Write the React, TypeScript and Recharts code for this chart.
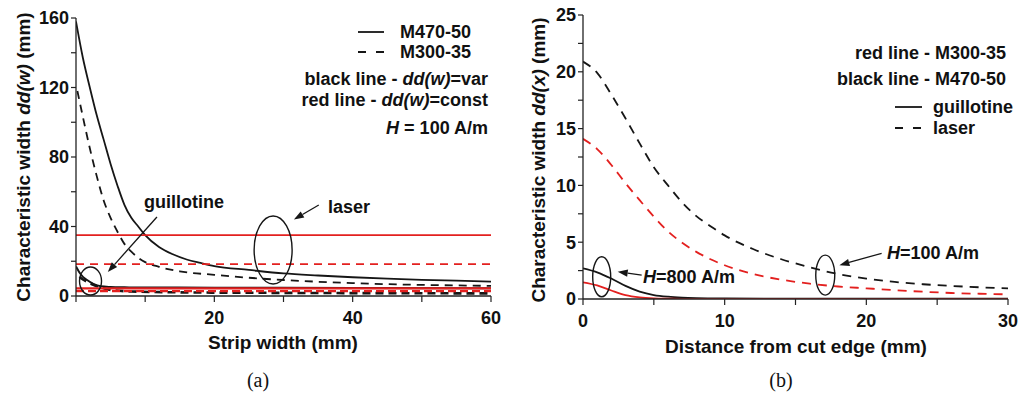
import React from 'react';
import { LineChart, Line, XAxis, YAxis, ReferenceDot, ReferenceLine } from 'recharts';

// ---------- Panel (a): characteristic width vs strip width ----------
const stripLaserM470 = [0, 1, 2, 3, 4, 5, 6, 7, 8, 9, 10, 12, 14, 16, 18, 20, 25, 30, 35, 40, 45, 50, 55, 60];
const laserVarM470 = [158, 137, 120, 104, 90, 76, 63.5, 52.5, 45, 40, 35, 28.2, 24, 21, 19, 17.2, 15, 13, 11.8, 10.8, 10, 9.3, 8.8, 8.3];
const stripLaserM300 = [0.2, 1, 2, 3, 4, 5, 6, 7, 8, 9, 10, 12, 15, 20, 25, 30, 35, 40, 45, 50, 55, 60];
const laserVarM300 = [118, 103, 85, 69, 55, 45, 37, 30, 25.5, 22, 19.5, 16.8, 14.2, 12.2, 10.5, 9.2, 8.2, 7.4, 6.8, 6.4, 6.1, 5.8];
const stripGuillM470 = [0, 0.5, 1, 1.6, 2.5, 3.6, 5, 7, 10, 20, 40, 60];
const guillVarM470 = [17, 13.5, 11, 9.2, 7, 5.6, 5.2, 5, 4.9, 4.8, 4.6, 4.5];
const stripGuillM300 = [0.5, 1, 1.6, 2.5, 3.3, 5, 8, 15, 30, 60];
const guillVarM300 = [11, 9.5, 8.2, 6.5, 5.3, 3.5, 2.6, 2.1, 1.8, 1.5];
const stripRange = [0, 60];
const laserConstM470 = 35;
const laserConstM300 = 18.3;
const guillConstM470 = 4.4;
const guillConstM300 = 2.8;
const aXTicks = [0, 10, 20, 30, 40, 50, 60];
const aYTicks = [0, 20, 40, 60, 80, 100, 120, 140, 160];

// ---------- Panel (b): characteristic width vs distance from cut edge ----------
const distLaser = [0, 1, 2, 3, 4, 5, 6, 7, 8, 9, 10, 12, 14, 16, 18, 20, 22, 24, 26, 28, 30];
const laserM470H100 = [20.9, 19.9, 18.0, 15.9, 13.7, 11.6, 10.0, 8.5, 7.3, 6.4, 5.6, 4.4, 3.5, 2.8, 2.2, 1.8, 1.5, 1.3, 1.15, 1.03, 0.94];
const laserM300H100 = [14.1, 13.2, 11.8, 10.2, 8.7, 7.25, 5.95, 4.95, 4.15, 3.5, 2.97, 2.2, 1.7, 1.35, 1.1, 0.94, 0.78, 0.64, 0.53, 0.46, 0.41];
const distGuill = [0, 1, 2, 3, 4, 5, 6, 7, 8, 10, 15, 20, 30];
const guillM470H800 = [2.7, 2.35, 1.8, 1.15, 0.65, 0.35, 0.2, 0.12, 0.08, 0.05, 0.03, 0.02, 0.02];
const guillM300H800 = [1.47, 1.2, 0.75, 0.35, 0.15, 0.06, 0.03, 0.015, 0.01, 0, 0, 0, 0];
const bXTicks = [0, 5, 10, 15, 20, 25, 30];
const bYTicks = [0, 2.5, 5, 7.5, 10, 12.5, 15, 17.5, 20, 22.5, 25];

const zip = (xs: number[], ys: number[]) => xs.map((x, i) => ({ x, y: ys[i] }));
const flat = (xs: number[], v: number) => xs.map((x) => ({ x, y: v }));

const BLACK = '#161616';
const RED = '#e3201f';
const FONT = '"Liberation Sans", Arial, sans-serif';

const tickStyle = { fontSize: 18, fontWeight: 700, fill: '#111', fontFamily: FONT };
const axisLine = { stroke: '#222', strokeWidth: 1.3 };
const tickLine = { stroke: '#222', strokeWidth: 1.2 };

const Arrow = (p: any) => {
  const { x1, y1, x2, y2 } = p;
  const a = Math.atan2(y2 - y1, x2 - x1);
  const L = 10;
  const W = 3.6;
  const bx = x2 - L * Math.cos(a);
  const by = y2 - L * Math.sin(a);
  const pts = `${x2},${y2} ${bx - W * Math.sin(a)},${by + W * Math.cos(a)} ${bx + W * Math.sin(a)},${by - W * Math.cos(a)}`;
  return (
    <g>
      <line x1={x1} y1={y1} x2={bx} y2={by} stroke={BLACK} strokeWidth={1.3} />
      <polygon points={pts} fill={BLACK} />
    </g>
  );
};

const ellipse = (rx: number, ry: number) => (p: any) => (
  <ellipse cx={p.cx} cy={p.cy} rx={rx} ry={ry} fill="none" stroke={BLACK} strokeWidth={1.4} />
);

const txt = { fontFamily: FONT, fontWeight: 700, fontSize: 18, fill: '#111' } as const;

export default function App() {
  return (
    <div style={{ position: 'absolute', left: 0, top: 0, width: 1020, height: 396, background: '#fff' }}>
      <div style={{ position: 'absolute', left: 0, top: 0 }}>
        <LineChart width={510} height={396} margin={{ top: 18, right: 19, bottom: 70, left: 16 }}>
          <XAxis
            type="number"
            dataKey="x"
            domain={[0, 60]}
            ticks={aXTicks}
            allowDataOverflow
            tickFormatter={(v: number) => (v !== 0 && v % 20 === 0 ? String(v) : '')}
            tick={tickStyle}
            tickSize={6}
            tickMargin={9}
            height={30}
            axisLine={axisLine}
            tickLine={tickLine}
          />
          <YAxis
            type="number"
            domain={[0, 160]}
            ticks={aYTicks}
            allowDataOverflow
            tickFormatter={(v: number) => (v % 40 === 0 ? String(v) : '')}
            tick={tickStyle}
            tickSize={5}
            tickMargin={2}
            width={60}
            axisLine={axisLine}
            tickLine={tickLine}
          />
          <Line data={zip(stripLaserM470, laserVarM470)} dataKey="y" type="monotone" stroke={BLACK} strokeWidth={1.8} dot={false} isAnimationActive={false} />
          <Line data={zip(stripLaserM300, laserVarM300)} dataKey="y" type="monotone" stroke={BLACK} strokeWidth={1.8} strokeDasharray="8 6" dot={false} isAnimationActive={false} />
          <Line data={zip(stripGuillM470, guillVarM470)} dataKey="y" type="monotone" stroke={BLACK} strokeWidth={2} dot={false} isAnimationActive={false} />
          <Line data={zip(stripGuillM300, guillVarM300)} dataKey="y" type="monotone" stroke={BLACK} strokeWidth={2.6} strokeDasharray="8 5" dot={false} isAnimationActive={false} />
          <Line data={flat(stripRange, laserConstM470)} dataKey="y" stroke={RED} strokeWidth={1.8} dot={false} isAnimationActive={false} />
          <Line data={flat(stripRange, laserConstM300)} dataKey="y" stroke={RED} strokeWidth={1.8} strokeDasharray="8 6" dot={false} isAnimationActive={false} />
          <Line data={flat(stripRange, guillConstM470)} dataKey="y" stroke={RED} strokeWidth={2.4} dot={false} isAnimationActive={false} />
          <Line data={flat(stripRange, guillConstM300)} dataKey="y" stroke={RED} strokeWidth={2.4} strokeDasharray="8 4" dot={false} isAnimationActive={false} />
          <ReferenceDot x={28.5} y={26.5} r={1} ifOverflow="visible" shape={ellipse(19, 34)} />
          <ReferenceDot x={2.1} y={8.6} r={1} ifOverflow="visible" shape={ellipse(11, 14)} />
          <ReferenceLine segment={[{ x: 11.7, y: 45.5 }, { x: 4.6, y: 13.8 }]} ifOverflow="visible" shape={Arrow} />
          <ReferenceLine segment={[{ x: 35.1, y: 52.4 }, { x: 31.5, y: 44 }]} ifOverflow="visible" shape={Arrow} />
        </LineChart>
      </div>
      <div style={{ position: 'absolute', left: 510, top: 0 }}>
        <LineChart width={510} height={396} margin={{ top: 15, right: 12, bottom: 67, left: 13 }}>
          <XAxis
            type="number"
            dataKey="x"
            domain={[0, 30]}
            ticks={bXTicks}
            allowDataOverflow
            tickFormatter={(v: number) => (v % 10 === 0 ? String(v) : '')}
            tick={tickStyle}
            tickSize={6}
            tickMargin={9}
            height={30}
            axisLine={axisLine}
            tickLine={tickLine}
          />
          <YAxis
            type="number"
            domain={[0, 25]}
            ticks={bYTicks}
            allowDataOverflow
            tickFormatter={(v: number) => (v % 5 === 0 ? String(v) : '')}
            tick={tickStyle}
            tickSize={5}
            tickMargin={2}
            width={60}
            axisLine={axisLine}
            tickLine={tickLine}
          />
          <Line data={zip(distLaser, laserM470H100)} dataKey="y" type="monotone" stroke={BLACK} strokeWidth={1.8} strokeDasharray="9 7" dot={false} isAnimationActive={false} />
          <Line data={zip(distLaser, laserM300H100)} dataKey="y" type="monotone" stroke={RED} strokeWidth={1.8} strokeDasharray="9 7" dot={false} isAnimationActive={false} />
          <Line data={zip(distGuill, guillM470H800)} dataKey="y" type="monotone" stroke={BLACK} strokeWidth={1.8} dot={false} isAnimationActive={false} />
          <Line data={zip(distGuill, guillM300H800)} dataKey="y" type="monotone" stroke={RED} strokeWidth={1.8} dot={false} isAnimationActive={false} />
          <ReferenceDot x={1.32} y={1.96} r={1} ifOverflow="visible" shape={ellipse(9, 20)} />
          <ReferenceDot x={17.1} y={2.1} r={1} ifOverflow="visible" shape={ellipse(9.5, 20)} />
          <ReferenceLine segment={[{ x: 4.14, y: 2.11 }, { x: 2.45, y: 2.4 }]} ifOverflow="visible" shape={Arrow} />
          <ReferenceLine segment={[{ x: 21.08, y: 4.02 }, { x: 18.1, y: 2.98 }]} ifOverflow="visible" shape={Arrow} />
        </LineChart>
      </div>
      <svg width={1020} height={396} style={{ position: 'absolute', left: 0, top: 0, pointerEvents: 'none' }}>
        {/* Panel (a) texts */}
        <text {...txt} fontSize={19} transform="translate(23,157) rotate(-90)" textAnchor="middle" dominantBaseline="central">
          Characteristic width <tspan fontStyle="italic">dd(w)</tspan> (mm)
        </text>
        <text {...txt} fontSize={19} x={283} y={342} textAnchor="middle" dominantBaseline="central">Strip width (mm)</text>
        <line x1={358} y1={32} x2={384} y2={32} stroke={BLACK} strokeWidth={1.8} />
        <text {...txt} x={400} y={32} dominantBaseline="central">M470-50</text>
        <line x1={358} y1={52} x2={384} y2={52} stroke={BLACK} strokeWidth={1.8} strokeDasharray="8 10" />
        <text {...txt} x={400} y={52} dominantBaseline="central">M300-35</text>
        <text {...txt} x={488} y={79} textAnchor="end" dominantBaseline="central">
          black line - <tspan fontStyle="italic">dd(w)</tspan>=var
        </text>
        <text {...txt} x={488} y={100} textAnchor="end" dominantBaseline="central">
          red line - <tspan fontStyle="italic">dd(w)</tspan>=const
        </text>
        <text {...txt} x={488} y={128} textAnchor="end" dominantBaseline="central">
          <tspan fontStyle="italic">H</tspan> = 100 A/m
        </text>
        <text {...txt} x={144} y={202} dominantBaseline="central">guillotine</text>
        <text {...txt} x={328} y={207} dominantBaseline="central">laser</text>
        <text x={258} y={380} textAnchor="middle" dominantBaseline="central" fontFamily='"Liberation Serif", "Times New Roman", serif' fontSize={20} fill="#111">(a)</text>

        {/* Panel (b) texts */}
        <text {...txt} fontSize={19} transform="translate(538,160) rotate(-90)" textAnchor="middle" dominantBaseline="central">
          Characteristic width <tspan fontStyle="italic">dd(x)</tspan> (mm)
        </text>
        <text {...txt} fontSize={19} x={796} y={346} textAnchor="middle" dominantBaseline="central">Distance from cut edge (mm)</text>
        <text {...txt} x={1006} y={53} textAnchor="end" dominantBaseline="central">red line - M300-35</text>
        <text {...txt} x={1006} y={79} textAnchor="end" dominantBaseline="central">black line - M470-50</text>
        <line x1={895} y1={107} x2={922} y2={107} stroke={BLACK} strokeWidth={1.8} />
        <text {...txt} x={933} y={107} dominantBaseline="central">guillotine</text>
        <line x1={895} y1={128} x2={922} y2={128} stroke={BLACK} strokeWidth={1.8} strokeDasharray="8 10" />
        <text {...txt} x={933} y={128} dominantBaseline="central">laser</text>
        <text {...txt} x={643} y={277} dominantBaseline="central">
          <tspan fontStyle="italic">H</tspan>=800 A/m
        </text>
        <text {...txt} x={887} y={253} dominantBaseline="central">
          <tspan fontStyle="italic">H</tspan>=100 A/m
        </text>
        <text x={781} y={380} textAnchor="middle" dominantBaseline="central" fontFamily='"Liberation Serif", "Times New Roman", serif' fontSize={20} fill="#111">(b)</text>
      </svg>
    </div>
  );
}
